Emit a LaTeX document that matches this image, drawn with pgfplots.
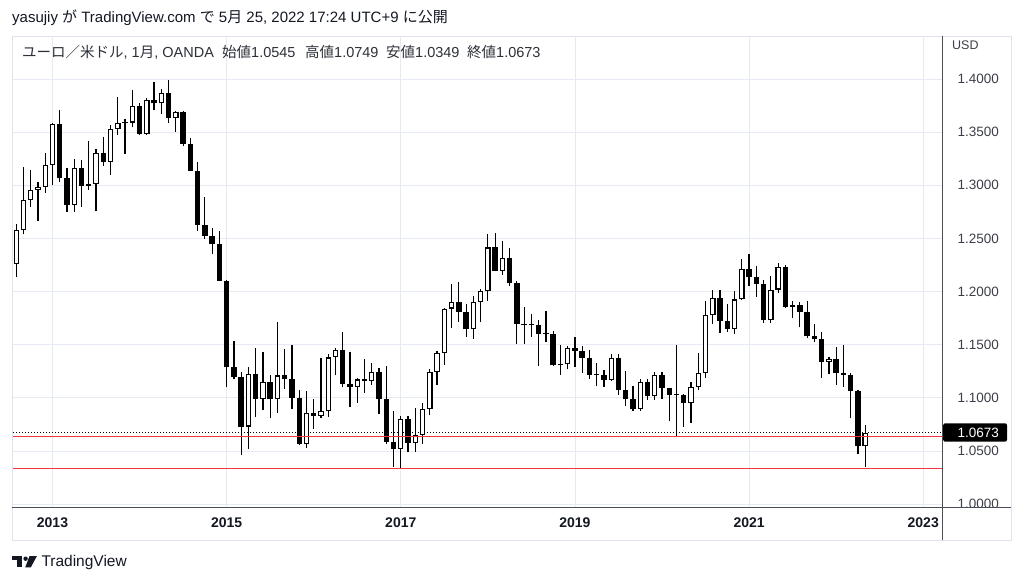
\documentclass[border=0pt]{standalone}
\usepackage{fontspec}
\setmainfont{Liberation Sans}
\newfontfamily\cjk{Noto Sans CJK JP}
\usepackage{pgfplots}
\pgfplotsset{compat=1.18}
\usepackage{pgfplotstable}
\definecolor{gridc}{RGB}{229,234,243}
\definecolor{framec}{RGB}{224,227,235}
\definecolor{axisc}{RGB}{74,78,89}
\definecolor{txt}{RGB}{19,23,34}
\definecolor{legtxt}{RGB}{45,48,56}
\definecolor{ticktxt}{RGB}{60,63,72}
\definecolor{tvred}{RGB}{242,54,69}

% month index m: 0 = Jan 2013 ; columns: open high low close
\pgfplotstableread{
m o h l c
-5 1.2262 1.2640 1.2133 1.2576
-4 1.2576 1.3172 1.2538 1.2859
-3 1.2859 1.3140 1.2800 1.2958
-2 1.2958 1.3030 1.2661 1.2986
-1 1.2986 1.3308 1.2927 1.3193
0 1.3193 1.3586 1.3000 1.3580
1 1.3580 1.3711 1.3035 1.3065
2 1.3065 1.3160 1.2750 1.2818
3 1.2818 1.3243 1.2745 1.3167
4 1.3167 1.3242 1.2796 1.2996
5 1.2996 1.3417 1.2955 1.3010
6 1.3010 1.3345 1.2755 1.3302
7 1.3302 1.3452 1.3184 1.3220
8 1.3220 1.3569 1.3100 1.3527
9 1.3527 1.3832 1.3476 1.3584
10 1.3584 1.3620 1.3295 1.3590
11 1.3590 1.3894 1.3545 1.3743
12 1.3743 1.3774 1.3477 1.3484
13 1.3484 1.3825 1.3477 1.3802
14 1.3802 1.3967 1.3705 1.3770
15 1.3770 1.3905 1.3673 1.3870
16 1.3870 1.3993 1.3588 1.3634
17 1.3634 1.3698 1.3503 1.3692
18 1.3692 1.3700 1.3367 1.3390
19 1.3390 1.3444 1.3130 1.3132
20 1.3132 1.3222 1.2570 1.2630
21 1.2630 1.2887 1.2499 1.2524
22 1.2524 1.2600 1.2358 1.2450
23 1.2450 1.2570 1.2098 1.2100
24 1.2100 1.2110 1.1098 1.1290
25 1.1290 1.1534 1.1176 1.1196
26 1.1196 1.1246 1.0462 1.0730
27 1.0730 1.1290 1.0520 1.1225
28 1.1225 1.1466 1.0818 1.0990
29 1.0990 1.1436 1.0888 1.1146
30 1.1146 1.1215 1.0808 1.0985
31 1.0985 1.1713 1.0862 1.1211
32 1.1211 1.1460 1.1086 1.1177
33 1.1177 1.1495 1.0896 1.1003
34 1.1003 1.1070 1.0558 1.0564
35 1.0564 1.1060 1.0524 1.0860
36 1.0860 1.0986 1.0711 1.0830
37 1.0830 1.1376 1.0810 1.0875
38 1.0875 1.1415 1.0822 1.1380
39 1.1380 1.1465 1.1215 1.1455
40 1.1455 1.1616 1.1098 1.1130
41 1.1130 1.1428 1.0912 1.1103
42 1.1103 1.1186 1.0952 1.1173
43 1.1173 1.1366 1.1046 1.1157
44 1.1157 1.1327 1.1122 1.1240
45 1.1240 1.1278 1.0852 1.0985
46 1.0985 1.1299 1.0570 1.0589
47 1.0589 1.0874 1.0352 1.0520
48 1.0520 1.0830 1.0340 1.0798
49 1.0798 1.0829 1.0494 1.0575
50 1.0575 1.0906 1.0494 1.0652
51 1.0652 1.0950 1.0569 1.0895
52 1.0895 1.1268 1.0840 1.1243
53 1.1243 1.1445 1.1119 1.1425
54 1.1425 1.1846 1.1312 1.1840
55 1.1840 1.2070 1.1662 1.1905
56 1.1905 1.2092 1.1717 1.1812
57 1.1812 1.1880 1.1574 1.1645
58 1.1645 1.1961 1.1554 1.1903
59 1.1903 1.2023 1.1717 1.2005
60 1.2005 1.2538 1.1916 1.2415
61 1.2415 1.2555 1.2191 1.2193
62 1.2193 1.2476 1.2154 1.2320
63 1.2320 1.2414 1.2055 1.2078
64 1.2078 1.2097 1.1510 1.1693
65 1.1693 1.1851 1.1508 1.1685
66 1.1685 1.1791 1.1575 1.1690
67 1.1690 1.1734 1.1301 1.1600
68 1.1600 1.1815 1.1526 1.1604
69 1.1604 1.1625 1.1302 1.1310
70 1.1310 1.1500 1.1215 1.1315
71 1.1315 1.1486 1.1269 1.1467
72 1.1467 1.1570 1.1289 1.1445
73 1.1445 1.1489 1.1234 1.1371
74 1.1371 1.1448 1.1176 1.1218
75 1.1218 1.1324 1.1111 1.1214
76 1.1214 1.1265 1.1106 1.1168
77 1.1168 1.1412 1.1160 1.1372
78 1.1372 1.1412 1.1028 1.1077
79 1.1077 1.1250 1.0926 1.0986
80 1.0986 1.1109 1.0879 1.0898
81 1.0898 1.1179 1.0879 1.1153
82 1.1153 1.1175 1.0981 1.1017
83 1.1017 1.1239 1.0981 1.1213
84 1.1213 1.1239 1.0992 1.1093
85 1.1093 1.1096 1.0778 1.1026
86 1.1026 1.1496 1.0636 1.1031
87 1.1031 1.1040 1.0727 1.0954
88 1.0954 1.1147 1.0766 1.1101
89 1.1101 1.1422 1.1074 1.1234
90 1.1234 1.1908 1.1185 1.1778
91 1.1778 1.2011 1.1696 1.1937
92 1.1937 1.2011 1.1612 1.1720
93 1.1720 1.1881 1.1622 1.1647
94 1.1647 1.2004 1.1603 1.1926
95 1.1926 1.2310 1.1922 1.2216
96 1.2216 1.2349 1.2054 1.2136
97 1.2136 1.2243 1.1952 1.2075
98 1.2075 1.2113 1.1704 1.1728
99 1.1728 1.2150 1.1704 1.2019
100 1.2019 1.2266 1.1986 1.2228
101 1.2228 1.2254 1.1847 1.1858
102 1.1858 1.1909 1.1752 1.1869
103 1.1869 1.1900 1.1664 1.1808
104 1.1808 1.1909 1.1563 1.1578
105 1.1578 1.1692 1.1524 1.1558
106 1.1558 1.1616 1.1186 1.1338
107 1.1338 1.1386 1.1222 1.1370
108 1.1370 1.1483 1.1121 1.1235
109 1.1235 1.1495 1.1106 1.1218
110 1.1218 1.1233 1.0806 1.1067
111 1.1067 1.1076 1.0471 1.0545
112 1.0545 1.0749 1.0349 1.0673
}\candles

\pgfplotsset{candle/.style={mark=none, draw=none, forget plot,
  error bars/.cd, y dir=plus, y explicit, error mark=none}}

\begin{document}
\begin{tikzpicture}
\path[use as bounding box] (0pt,0pt) rectangle (1024pt,583pt);
\begin{axis}[
  at={(12pt,75.3pt)}, anchor=south west,
  scale only axis, width=930.7pt, height=471.7pt,
  xmin=-5.582, xmax=122.685, ymin=0.99667, ymax=1.44045,
  axis line style={draw=none},
  major tick length=0pt,
  xtick={0,24,48,72,96,120},
  xticklabels={2013,2015,2017,2019,2021,2023},
  xticklabel style={anchor=center, yshift=-15.3pt, inner sep=0pt, text=txt, font=\fontsize{14}{14}\selectfont\bfseries},
  ytick={1.0,1.05,1.1,1.15,1.2,1.25,1.3,1.35,1.4},
  yticklabels={1.0000,1.0500,1.1000,1.1500,1.2000,1.2500,1.3000,1.3500,1.4000},
  yticklabel pos=right,
  yticklabel style={anchor=east, xshift=56.3pt, inner sep=0pt, text=ticktxt, font=\fontsize{13.5}{14}\selectfont},
  grid=major, grid style={draw=gridc, line width=0.8pt},
]
\addplot[draw=black, line width=0.9pt, mark=none, dash pattern=on 1pt off 2pt] coordinates {(-10,1.0673) (130,1.0673)};
% wicks
\addplot[candle, error bar style={line width=1.2pt, draw=black, line cap=butt}]
  table[x=m, y=l, y error plus expr={\thisrow{h}-\thisrow{l}}] {\candles};
% bodies (outline / black fill)
\addplot[candle, error bar style={line width=5.4pt, draw=black, line cap=butt}]
  table[x=m, y expr={min(\thisrow{o},\thisrow{c})}, y error plus expr={max(abs(\thisrow{c}-\thisrow{o}),0.0012)}] {\candles};
% white interior of rising candles
\addplot[candle, error bar style={line width=3.2pt, draw=white, line cap=butt}]
  table[x=m, y expr={\thisrow{o}+0.00103}, y error plus expr={ifthenelse(\thisrow{c}-\thisrow{o}>0.0025,\thisrow{c}-\thisrow{o}-0.00206,0)}] {\candles};
% horizontal support lines (March 2020 low, May 2022 low)
\addplot[draw=tvred, line width=1.1pt, mark=none] coordinates {(-10,1.0636) (130,1.0636)};
\addplot[draw=tvred, line width=1.1pt, mark=none] coordinates {(-10,1.0336) (130,1.0336)};
\end{axis}
\begin{scope}[x=1pt,y=1pt]
  \fill[white] (943.3,43.5) rectangle (1010.5,74.7);
  \draw[framec, line width=0.8pt] (12,43) rectangle (1011,547);
  \draw[axisc, line width=1pt] (942.7,43) -- (942.7,547);
  \draw[axisc, line width=1pt] (12,75.3) -- (1011,75.3);
  \fill[black, rounded corners=2pt] (943.2,141.3) rectangle (1007,159.7);
  \node[anchor=east, inner sep=0pt, text=white, font=\fontsize{13.5}{14}\selectfont] at (999,150.5) {1.0673};
  \node[anchor=west, inner sep=0pt, text=ticktxt, font=\fontsize{12.5}{13}\selectfont] at (952,538) {USD};
  \node[anchor=west, inner sep=0pt, text=txt, font=\fontsize{15}{16}\selectfont] at (12,565)
    {yasujiy {\cjk が} TradingView.com {\cjk で} 5{\cjk 月} 25, 2022 17:24 UTC+9 {\cjk に公開}};
  \begin{scope}[every node/.style={anchor=west, inner sep=0pt, text=legtxt, font=\fontsize{14.5}{16}\selectfont}]
    \node at (22,531) {{\cjk ユーロ／米ドル}, 1{\cjk 月}, OANDA};
    \node at (222,531) {{\cjk 始値}1.0545};
    \node at (305,531) {{\cjk 高値}1.0749};
    \node at (386,531) {{\cjk 安値}1.0349};
    \node at (467,531) {{\cjk 終値}1.0673};
  \end{scope}
  % TradingView logo
  \fill[txt] (12.4,23.2) rectangle (22,26.8);
  \fill[txt] (17.2,15.6) rectangle (22,26.8);
  \fill[txt] (25.6,24.3) circle (2.2);
  \fill[txt] (29.5,26.8) -- (36.8,26.8) -- (30.8,15.6) -- (25.2,15.6) -- cycle;
  \node[anchor=west, inner sep=0pt, text=txt, font=\fontsize{15.5}{16}\selectfont] at (41.3,20.7) {TradingView};
\end{scope}
\end{tikzpicture}
\end{document}
